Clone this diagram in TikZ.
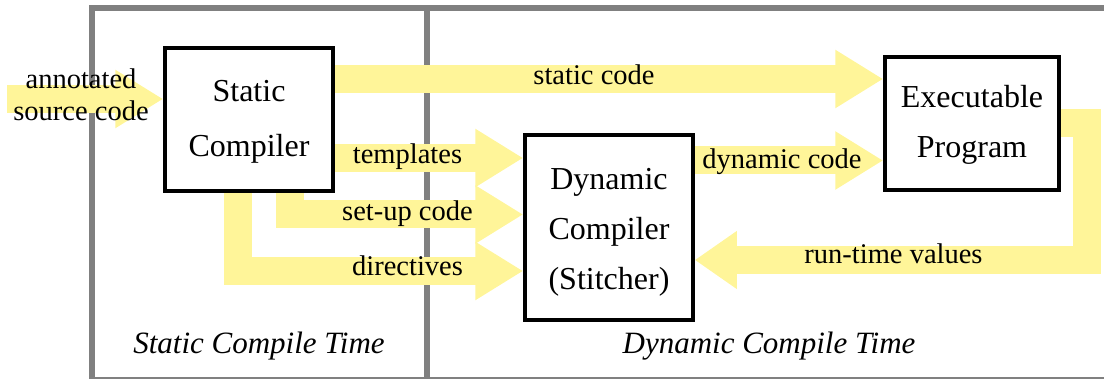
\documentclass[tikz,border=0pt]{standalone}
\usepackage{fontspec}
\setmainfont{Liberation Serif}
\usetikzlibrary{arrows.meta,calc}
\definecolor{hl}{RGB}{255,245,153}
\definecolor{framegray}{RGB}{128,128,128}
\pgfdeclarelayer{back}
\pgfdeclarelayer{mid}
\pgfsetlayers{back,mid,main}
\begin{document}
\begin{tikzpicture}[x=1pt,y=-1pt,
  box/.style={draw=black, line width=3.5pt, fill=white, align=center, inner sep=0pt},
  lbl/.style={font=\fontsize{28.5}{32}\selectfont, anchor=base, inner sep=0pt},
  era/.style={font=\fontsize{31}{36}\selectfont\itshape, anchor=base, inner sep=0pt},
  flow/.style={draw=hl, line width=28pt, line join=miter, -{Triangle[length=48pt 0 0,width=55pt 0 0]}},
  framestyle/.style={draw=framegray, line width=6pt},
]
\useasboundingbox (0,0) rectangle (1104,379);

% boxes
\node[box, font=\fontsize{32}{55}\selectfont, minimum width=168pt, minimum height=143pt] (sc) at (249,119.5) {\rule{0pt}{26pt}Static\\Compiler};
\node[box, font=\fontsize{32}{50}\selectfont, minimum width=168pt, minimum height=185pt] (dyn) at (609,227.5) {\rule{0pt}{30pt}Dynamic\\Compiler\\(Stitcher)};
\node[box, font=\fontsize{32}{50}\selectfont, minimum width=174pt, minimum height=133pt] (ep) at (972,123.5) {\rule{0pt}{24pt}Executable\\Program};

% frame
\begin{pgfonlayer}{back}
\draw[framestyle] (92,8.5) rectangle (1110,380.5);
\draw[framestyle] (427,8.5) -- (427,380.5);
\end{pgfonlayer}

% flows
\begin{pgfonlayer}{mid}
\coordinate (src) at (7,99);
\draw[flow] (src) -- (sc.west |- src);
\coordinate (stc) at (0,79);
\draw[flow] (sc.east |- stc) -- (ep.west |- stc);
\coordinate (tp) at (0,158);
\draw[flow] (sc.east |- tp) -- (dyn.west |- tp);
\coordinate (su) at (290,214.5);
\draw[flow] (sc.south -| su) |- (dyn.west |- su);
\coordinate (dv) at (237.5,271);
\draw[flow] (sc.south -| dv) |- (dyn.west |- dv);
\coordinate (dc) at (0,160.5);
\draw[flow] (dyn.east |- dc) -- (ep.west |- dc);
\coordinate (rt) at (1087,260);
\draw[flow, -{Triangle[length=42pt 0 0,width=55pt 0 0]}] (ep.east) -| (rt) -- (dyn.east |- rt);
\end{pgfonlayer}

% labels
\node[lbl] (lsrca) at (81,89) {annotated};
\node[lbl] (lsrcb) at (81,121) {source code};
\node[lbl] (lstatic) at (594,85) {static code};
\node[lbl] (ltmpl) at (407.5,164) {templates};
\node[lbl] (lsetup) at (407.5,221) {set-up code};
\node[lbl] (ldir) at (407.5,276) {directives};
\node[lbl] (ldyn) at (782,169) {dynamic code};
\node[lbl] (lrt) at (893.5,264) {run-time values};
\node[era] (tstatic) at (259,354) {Static Compile Time};
\node[era] (tdyn) at (769,354) {Dynamic Compile Time};
\end{tikzpicture}
\end{document}
